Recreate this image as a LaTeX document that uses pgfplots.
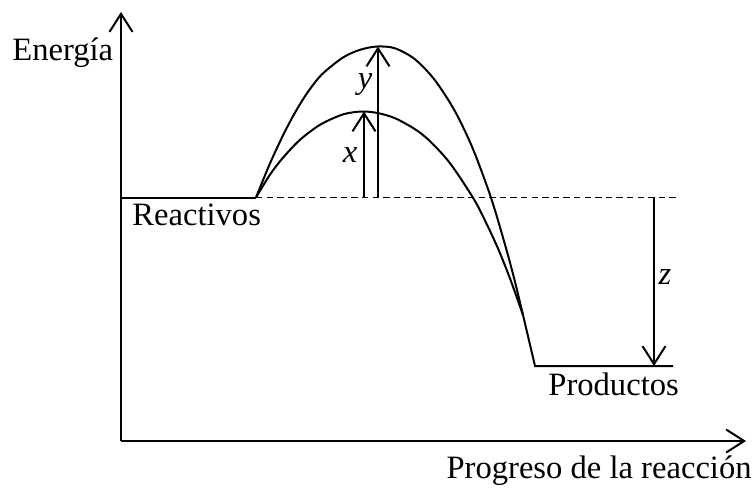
\documentclass[border=0pt]{standalone}
\usepackage{pgfplots}
\pgfplotsset{compat=1.18}
\usepackage{fontspec}
\setmainfont{Liberation Serif}
\usetikzlibrary{arrows.meta}
\tikzset{barb/.style={-{Straight Barb[length=9pt,width=11.5pt]}}}
\begin{document}
\begin{tikzpicture}[font=\fontsize{16.3}{19}\selectfont]
\begin{axis}[
  scale only axis, width=312.5pt, height=214.5pt,
  xmin=121, xmax=746, ymin=48, ymax=477,
  axis lines=left,
  axis line style={line width=1pt, barb},
  xtick=\empty, ytick=\empty, clip=false,
]
% reactant level
\addplot[black, line width=1pt] coordinates {(121,291.5) (256,291.5)};
\addplot[black, line width=0.95pt, dash pattern=on 3.2pt off 2.1pt] coordinates {(256,291.5) (677,291.5)};
% upper curve (uncatalysed)
\addplot[black, line width=1pt, smooth] coordinates {
(256,291.5) (270,325.6) (283,353.6) (295,376.4) (308,397.2) (322,414.7) (343,431.5) (360,439.2) (377,442.5)
(395,440.7) (415,429.7) (435,408.7) (455,377.7) (473,339.9) (491,291.3) (505,244.4) (514,211.1) (523,174)};
% lower curve (catalysed)
\addplot[black, line width=1pt, smooth] coordinates {
(256,291.5) (270,314.4) (283,331.3) (300,349.2) (320,364.2) (343,374.6) (362,377.5) (378,375.9)
(395,370.8) (415,359.8) (430,347.8) (450,325.8) (473,291.3) (485,268.5) (498,240.5) (510,210.5) (523,174)};
% descent to products
\addplot[black, line width=1pt] coordinates {(523,174) (535,123) (673,123)};
% arrows
\addplot[black, line width=1pt, barb] coordinates {(364,291.5) (364,377.5)};
\addplot[black, line width=1pt, barb] coordinates {(378,291.5) (378,442.5)};
\addplot[black, line width=1pt, barb] coordinates {(654,291.5) (654,123)};
% labels
\node[anchor=base west, inner sep=0pt] at (axis cs:12,429) {Energía};
\node[anchor=base west, inner sep=0pt] at (axis cs:132,264) {Reactivos};
\node[anchor=base west, inner sep=0pt] at (axis cs:548,94) {Productos};
\node[anchor=base east, inner sep=0pt] at (axis cs:752,11) {Progreso de la reacción};
\node[inner sep=0pt] at (axis cs:365,404) {\textit{y}};
\node[inner sep=0pt] at (axis cs:350,334) {\textit{x}};
\node[inner sep=0pt] at (axis cs:665,212) {\textit{z}};
\coordinate (bl) at (axis cs:0,0);
\coordinate (tr) at (axis cs:754,489);
\end{axis}
\pgfresetboundingbox
\path[use as bounding box] (bl) rectangle (tr);
\end{tikzpicture}
\end{document}
